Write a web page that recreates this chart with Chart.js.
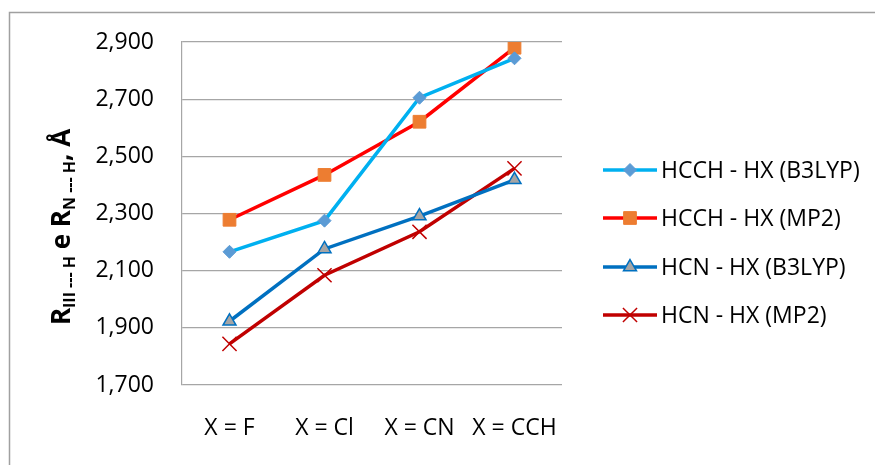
<!DOCTYPE html>
<html>
<head>
<meta charset="utf-8">
<script src="https://cdn.jsdelivr.net/npm/chart.js@4/dist/chart.umd.min.js"></script>
<style>
html,body{margin:0;padding:0;background:#fff;}
#wrap{width:875px;height:465px;position:relative;}
</style>
</head>
<body>
<div id="wrap"><canvas id="c" width="875" height="465"></canvas></div>
<script>
const categories = ["X = F", "X = Cl", "X = CN", "X = CCH"];
const hcchB3lyp = [2166, 2275, 2705, 2843];
const hcchMp2   = [2278, 2435, 2621, 2880];
const hcnB3lyp  = [1923, 2176, 2291, 2418];
const hcnMp2    = [1844, 2084, 2236, 2458];
const seriesNames = ["HCCH - HX (B3LYP)", "HCCH - HX (MP2)", "HCN - HX (B3LYP)", "HCN - HX (MP2)"];
const yMin = 1700, yMax = 2900, yStep = 200;

const FONT = "'Open Sans', 'Noto Sans', sans-serif";

const styles = [
  {line:'#00B0F0', ps:'rectRot', r:6.5, fill:'#5B9BD5', stroke:'#5B9BD5', bw:1},
  {line:'#FF0000', ps:'rect', r:9, fill:'#ED7D31', stroke:'#ED7D31', bw:1},
  {line:'#0070C0', ps:'triangle', r:7.5, fill:'#A5A5A5', stroke:'#0070C0', bw:1.5},
  {line:'#C00000', ps:'crossRot', r:10, fill:'#C00000', stroke:'#C00000', bw:1.5}
];
const allData = [hcchB3lyp, hcchMp2, hcnB3lyp, hcnMp2];

const datasets = allData.map((d,i)=>({
  label: seriesNames[i],
  data: d,
  borderColor: styles[i].line,
  borderWidth: 3.5,
  pointStyle: styles[i].ps,
  pointRadius: styles[i].r,
  pointHoverRadius: styles[i].r,
  pointBackgroundColor: styles[i].fill,
  pointBorderColor: styles[i].stroke,
  pointBorderWidth: styles[i].bw,
  fill: false,
  tension: 0
}));

function fmt(v){ return v.toString().replace(/\B(?=(\d{3})+(?!\d))/g, ','); }

function drawMarker(ctx, st, x, y){
  ctx.save();
  ctx.fillStyle = st.fill; ctx.strokeStyle = st.stroke; ctx.lineWidth = st.bw;
  if (Chart.helpers && Chart.helpers.drawPoint){
    Chart.helpers.drawPoint(ctx, {pointStyle: st.ps, radius: st.r, borderWidth: st.bw, rotation: 0}, x, y);
  }
  ctx.restore();
}

const decor = {
  id:'decor',
  beforeDraw(chart){
    const ctx = chart.ctx;
    ctx.save();
    ctx.fillStyle = '#fff';
    ctx.fillRect(0,0,chart.width,chart.height);
    ctx.strokeStyle = '#A0A0A0';
    ctx.lineWidth = 1.5;
    ctx.beginPath();
    ctx.moveTo(9.5, chart.height);
    ctx.lineTo(9.5, 12.5);
    ctx.lineTo(chart.width, 12.5);
    ctx.stroke();
    ctx.restore();
  },
  afterDraw(chart){
    const ctx = chart.ctx;
    // Y axis title with subscripts
    const segs = [
      {t:'R', s:26, sub:false},
      {t:'III --- H', s:16, sub:true},
      {t:' e R', s:26, sub:false},
      {t:'N --- H', s:16, sub:true},
      {t:', Å', s:26, sub:false}
    ];
    ctx.save();
    let total = 0;
    segs.forEach(g=>{ ctx.font = 'bold '+g.s+'px '+FONT; g.w = ctx.measureText(g.t).width; total += g.w; });
    ctx.translate(70, 227);
    ctx.rotate(-Math.PI/2);
    ctx.fillStyle = '#000';
    ctx.textBaseline = 'alphabetic';
    ctx.textAlign = 'left';
    let x = -total/2;
    segs.forEach(g=>{
      ctx.font = 'bold '+g.s+'px '+FONT;
      ctx.fillText(g.t, x, g.sub ? 5 : 0);
      x += g.w;
    });
    ctx.restore();

    // Legend
    const ly = [170, 218, 267, 315];
    ctx.save();
    for (let i=0;i<4;i++){
      const st = styles[i];
      ctx.strokeStyle = st.line;
      ctx.lineWidth = 3.5;
      ctx.beginPath();
      ctx.moveTo(603, ly[i]);
      ctx.lineTo(657, ly[i]);
      ctx.stroke();
      drawMarker(ctx, st, 630, ly[i]);
      ctx.fillStyle = '#000';
      ctx.font = '23px '+FONT;
      ctx.textBaseline = 'middle';
      ctx.textAlign = 'left';
      ctx.fillText(seriesNames[i], 661, ly[i]+1);
    }
    ctx.restore();
  }
};

new Chart(document.getElementById('c'), {
  type: 'line',
  data: { labels: categories, datasets },
  options: {
    responsive: false,
    animation: false,
    devicePixelRatio: 1,
    layout: { padding: { left: 0, right: 313, top: 42, bottom: 0 } },
    plugins: { legend: { display: false }, tooltip: { enabled: false } },
    scales: {
      x: {
        offset: true,
        grid: { display: false, drawTicks: false },
        border: { display: false },
        ticks: { color: '#000', font: { family: FONT, size: 23 }, padding: 30, maxRotation: 0, autoSkip: false },
        afterFit(s){ s.height = 80; }
      },
      y: {
        min: yMin, max: yMax,
        ticks: { stepSize: yStep, color: '#000', font: { family: FONT, size: 23 }, padding: 28, callback: v => fmt(v) },
        grid: { color: '#A6A6A6', lineWidth: 1.2, drawTicks: false },
        border: { display: true, color: '#A6A6A6', width: 1.2 },
        afterFit(s){ s.width = 182; }
      }
    }
  },
  plugins: [decor]
});
</script>
</body>
</html>
